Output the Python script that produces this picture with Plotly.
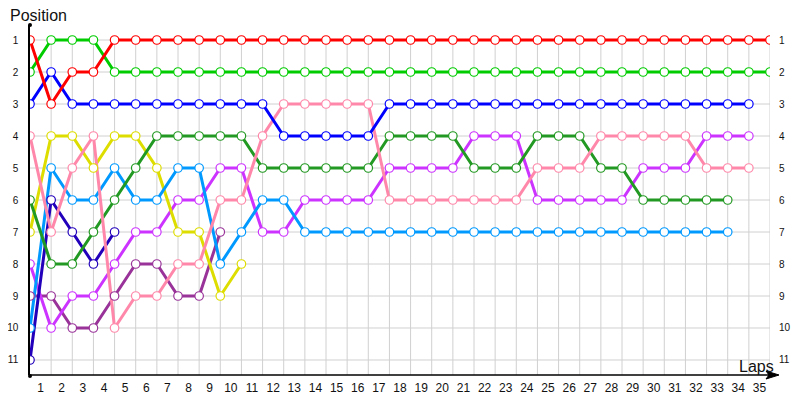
import plotly.graph_objects as go

# Lap numbers (lap 0 = start grid)
laps = list(range(36))
lap_labels = [str(i) for i in range(1, 36)]
positions_axis = [1, 2, 3, 4, 5, 6, 7, 8, 9, 10, 11]

# Position per lap for each driver (starting at lap 0)
red = [1, 3, 2, 2, 1, 1, 1, 1, 1, 1, 1, 1, 1, 1, 1, 1, 1, 1, 1, 1, 1, 1, 1, 1, 1, 1,
       1, 1, 1, 1, 1, 1, 1, 1, 1, 1]
green = [2, 1, 1, 1, 2, 2, 2, 2, 2, 2, 2, 2, 2, 2, 2, 2, 2, 2, 2, 2, 2, 2, 2, 2, 2, 2,
         2, 2, 2, 2, 2, 2, 2, 2, 2, 2]
blue = [3, 2, 3, 3, 3, 3, 3, 3, 3, 3, 3, 3, 4, 4, 4, 4, 4, 3, 3, 3, 3, 3, 3, 3, 3, 3,
        3, 3, 3, 3, 3, 3, 3, 3, 3]
pink = [4, 7, 5, 4, 10, 9, 9, 8, 8, 6, 6, 4, 3, 3, 3, 3, 3, 6, 6, 6, 6, 6, 6, 6, 5, 5,
        5, 4, 4, 4, 4, 4, 5, 5, 5]
dark_green = [6, 8, 8, 7, 6, 5, 4, 4, 4, 4, 4, 5, 5, 5, 5, 5, 5, 4, 4, 4, 4, 5, 5, 5, 4,
              4, 4, 5, 5, 6, 6, 6, 6, 6]
light_blue = [10, 5, 6, 6, 5, 6, 6, 5, 5, 8, 7, 6, 6, 7, 7, 7, 7, 7, 7, 7, 7, 7, 7, 7, 7,
              7, 7, 7, 7, 7, 7, 7, 7, 7]
yellow = [7, 4, 4, 5, 4, 4, 5, 7, 7, 9, 8]
indigo = [11, 6, 7, 8, 7]
magenta = [8, 10, 9, 9, 8, 7, 7, 6, 6, 5, 5, 7, 7, 6, 6, 6, 6, 5, 5, 5, 5, 4, 4, 4, 6, 6,
           6, 6, 6, 5, 5, 5, 4, 4, 4]
dark_purple = [9, 9, 10, 10, 9, 8, 8, 9, 9, 7]

series = [
    ("dark_purple", dark_purple, "#993399"),
    ("magenta", magenta, "#cc33ff"),
    ("indigo", indigo, "#2200bb"),
    ("yellow", yellow, "#dddd00"),
    ("light_blue", light_blue, "#0099ff"),
    ("dark_green", dark_green, "#229922"),
    ("pink", pink, "#ff88aa"),
    ("blue", blue, "#0000ff"),
    ("green", green, "#00cc00"),
    ("red", red, "#ff0000"),
]

Y_TOP = 0.531
Y_BOT = 11.469
X_MAX = 35

fig = go.Figure()

for name, vals, col in series:
    fig.add_trace(go.Scatter(
        x=laps[:len(vals)], y=vals, mode="lines", name=name,
        line=dict(color=col, width=3), showlegend=False, hoverinfo="skip"))
for name, vals, col in series:
    fig.add_trace(go.Scatter(
        x=laps[:len(vals)], y=vals, mode="markers", name=name,
        marker=dict(symbol="circle", size=8.5, color="white",
                    line=dict(color=col, width=1.2)),
        showlegend=False))

# invisible trace for right axis
fig.add_trace(go.Scatter(x=[0], y=[1], yaxis="y2", mode="markers",
                         marker=dict(opacity=0), showlegend=False, hoverinfo="skip"))

shapes = []
grid_col = "#d0d0d0"
for lap in laps[1:]:
    shapes.append(dict(type="line", xref="x", yref="y", x0=lap, x1=lap, y0=1, y1=Y_BOT,
                       line=dict(color=grid_col, width=1), layer="below"))
for p in positions_axis:
    shapes.append(dict(type="line", xref="x", yref="y", x0=0, x1=X_MAX, y0=p, y1=p,
                       line=dict(color=grid_col, width=1), layer="below"))

# x axis line with arrow (pixel coordinates of the reference mapped to paper)
px = lambda v: (v - 30) / 740.0
py = lambda v: (375 - v) / 350.0
shapes.append(dict(type="line", xref="paper", yref="paper", x0=0, x1=px(776), y0=0, y1=0,
                   line=dict(color="black", width=1.5), layer="above"))
shapes.append(dict(type="path", xref="paper", yref="paper",
                   path=f"M {px(779)} {py(375)} L {px(766)} {py(371)} L {px(769)} {py(375)} L {px(766)} {py(379)} Z",
                   fillcolor="black", line=dict(color="black", width=1), layer="above"))
# dots at axis ends
for (cx, cy) in [(30, 25), (30, 376)]:
    shapes.append(dict(type="circle", xref="paper", yref="paper",
                       x0=px(cx - 2), x1=px(cx + 2), y0=py(cy + 2), y1=py(cy - 2),
                       fillcolor="black", line=dict(color="black", width=0), layer="above"))

# page body has an 8px margin, so the figure is 792x392 and shifted by 8px
fig.update_layout(
    width=792, height=392,
    margin=dict(l=22, r=30, t=17, b=25, autoexpand=False),
    paper_bgcolor="white", plot_bgcolor="white",
    shapes=shapes,
    xaxis=dict(range=[0, X_MAX], showgrid=False, zeroline=False, showline=False,
               automargin=False,
               tickmode="array", tickvals=[i + 0.5 for i in range(35)], ticktext=lap_labels,
               ticks="", ticklabelstandoff=4,
               tickfont=dict(family="Liberation Sans", size=12, color="#111")),
    yaxis=dict(range=[Y_BOT, Y_TOP], showgrid=False, zeroline=False,
               showline=True, linecolor="black", linewidth=1.5, automargin=False,
               tickmode="array", tickvals=positions_axis, ticks="", ticklabelstandoff=8,
               tickfont=dict(family="Liberation Sans", size=10, color="#111")),
    yaxis2=dict(range=[Y_BOT, Y_TOP], overlaying="y", side="right", showgrid=False,
                zeroline=False, showline=False, automargin=False,
                tickmode="array", tickvals=positions_axis, ticks="", ticklabelstandoff=8,
                tickfont=dict(family="Liberation Sans", size=10, color="#111")),
    annotations=[
        dict(text="Position", xref="paper", yref="paper", x=px(8), y=py(16),
             xanchor="left", yanchor="middle", showarrow=False,
             font=dict(family="Liberation Sans", size=16, color="#111")),
        dict(text="Laps", xref="paper", yref="paper", x=px(776), y=py(366),
             xanchor="right", yanchor="middle", showarrow=False,
             font=dict(family="Liberation Sans", size=16, color="#111")),
    ],
)

fig.write_html("out.html")
